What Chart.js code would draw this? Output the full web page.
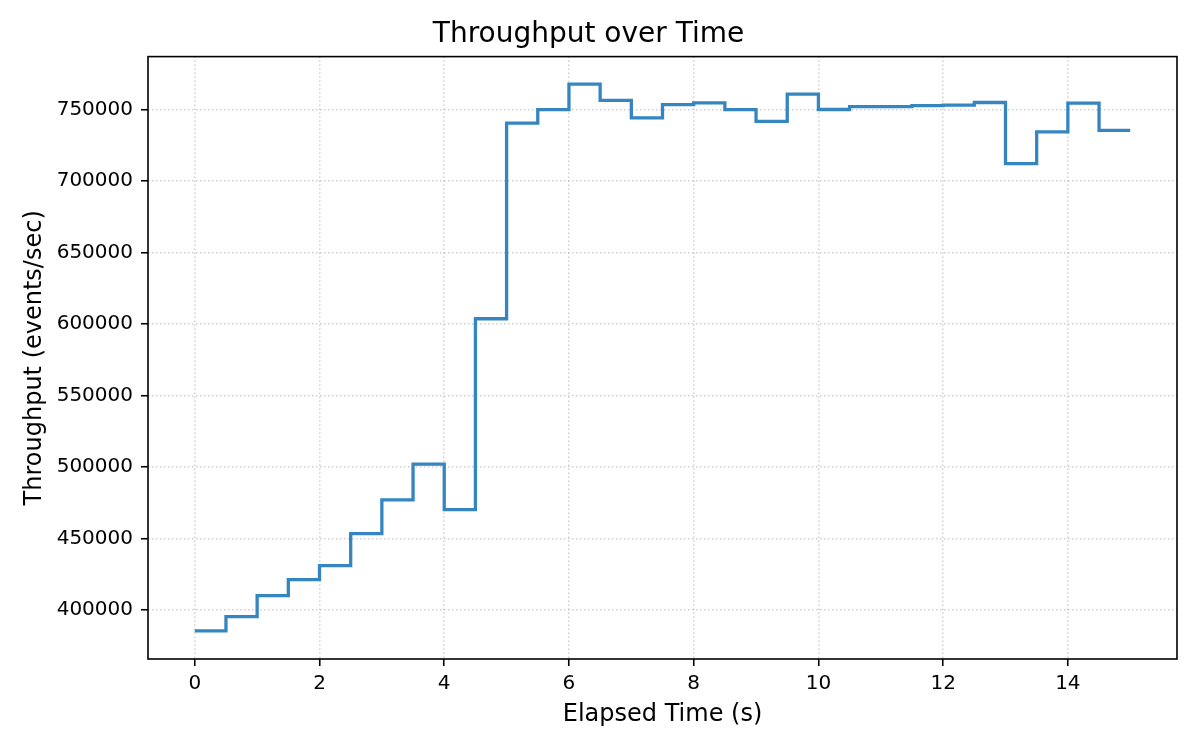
<!DOCTYPE html>
<html>
<head>
<meta charset="utf-8">
<title>Throughput over Time</title>
<script src="https://cdn.jsdelivr.net/npm/chart.js@4/dist/chart.umd.min.js"></script>
<style>
  body { margin: 0; background: #fff; }
  canvas { display: block; }
</style>
</head>
<body>
<canvas id="throughputChart" width="1200" height="750"></canvas>
<script>
// elapsed time (s) of each sample
const elapsed = [0, 0.5, 1, 1.5, 2, 2.5, 3, 3.5, 4, 4.5, 5, 5.5, 6, 6.5, 7, 7.5,
  8, 8.5, 9, 9.5, 10, 10.5, 11, 11.5, 12, 12.5, 13, 13.5, 14, 14.5, 15];

// throughput (events/sec)
const throughput = [385300, 395300, 410000, 421200, 431000, 453400, 477000, 501900,
  470200, 603600, 740400, 749800, 767700, 756300, 744000, 753300, 754500, 749800,
  741600, 760700, 749900, 751900, 751900, 752600, 753000, 754800, 712000, 734200,
  754400, 735300, 735300];

const xTicks = [0, 2, 4, 6, 8, 10, 12, 14];
const yTicks = [400000, 450000, 500000, 550000, 600000, 650000, 700000, 750000];

const font = "'DejaVu Sans', 'Liberation Sans', sans-serif";

// box around the plot area, like matplotlib spines
const frame = {
  id: "frame",
  afterDraw(chart) {
    const { ctx, chartArea: a } = chart;
    ctx.save();
    ctx.strokeStyle = "#000";
    ctx.lineWidth = 1.6;
    ctx.strokeRect(a.left, a.top, a.right - a.left, a.bottom - a.top);
    ctx.restore();
  }
};

const points = elapsed.map((t, i) => ({ x: t, y: throughput[i] }));

const ctx = document.getElementById("throughputChart").getContext("2d");
new Chart(ctx, {
  type: "line",
  data: {
    datasets: [{
      label: "Throughput",
      data: points,
      stepped: true,
      borderColor: "#3585c0",
      borderWidth: 3.3,
      borderJoinStyle: "miter",
      pointRadius: 0,
      fill: false
    }]
  },
  options: {
    responsive: false,
    animation: false,
    layout: { padding: { top: 0, right: 23, bottom: 0, left: 0 } },
    plugins: {
      legend: { display: false },
      tooltip: { enabled: false },
      title: {
        display: true,
        text: "Throughput over Time",
        color: "#000",
        font: { family: font, size: 28, weight: "normal" },
        padding: { top: 18, bottom: 5 }
      }
    },
    scales: {
      x: {
        type: "linear",
        min: -0.75,
        max: 15.75,
        afterBuildTicks: (scale) => { scale.ticks = xTicks.map(v => ({ value: v })); },
        afterFit: (scale) => { scale.height = 91; },
        ticks: {
          color: "#000",
          font: { family: font, size: 20 },
          padding: 6,
          maxRotation: 0,
          callback: (v) => String(v)
        },
        grid: {
          color: "rgba(176,176,176,0.6)",
          lineWidth: 1.5,
          tickLength: 7,
          tickWidth: 1.6,
          tickColor: "#000",
          tickBorderDash: []
        },
        border: { display: false, dash: [1.5, 2.5] },
        title: {
          display: true,
          text: "Elapsed Time (s)",
          color: "#000",
          font: { family: font, size: 24 },
          padding: { top: 0, bottom: 21 }
        }
      },
      y: {
        min: 365700,
        max: 786900,
        afterBuildTicks: (scale) => { scale.ticks = yTicks.map(v => ({ value: v })); },
        afterFit: (scale) => { scale.width = 148; },
        ticks: {
          color: "#000",
          font: { family: font, size: 20 },
          padding: 8,
          callback: (v) => String(v)
        },
        grid: {
          color: "rgba(176,176,176,0.6)",
          lineWidth: 1.5,
          tickLength: 7,
          tickWidth: 1.6,
          tickColor: "#000",
          tickBorderDash: []
        },
        border: { display: false, dash: [1.5, 2.5] },
        title: {
          display: true,
          text: "Throughput (events/sec)",
          color: "#000",
          font: { family: font, size: 24 },
          padding: { top: 20, bottom: 0 }
        }
      }
    }
  },
  plugins: [frame]
});
</script>
</body>
</html>
